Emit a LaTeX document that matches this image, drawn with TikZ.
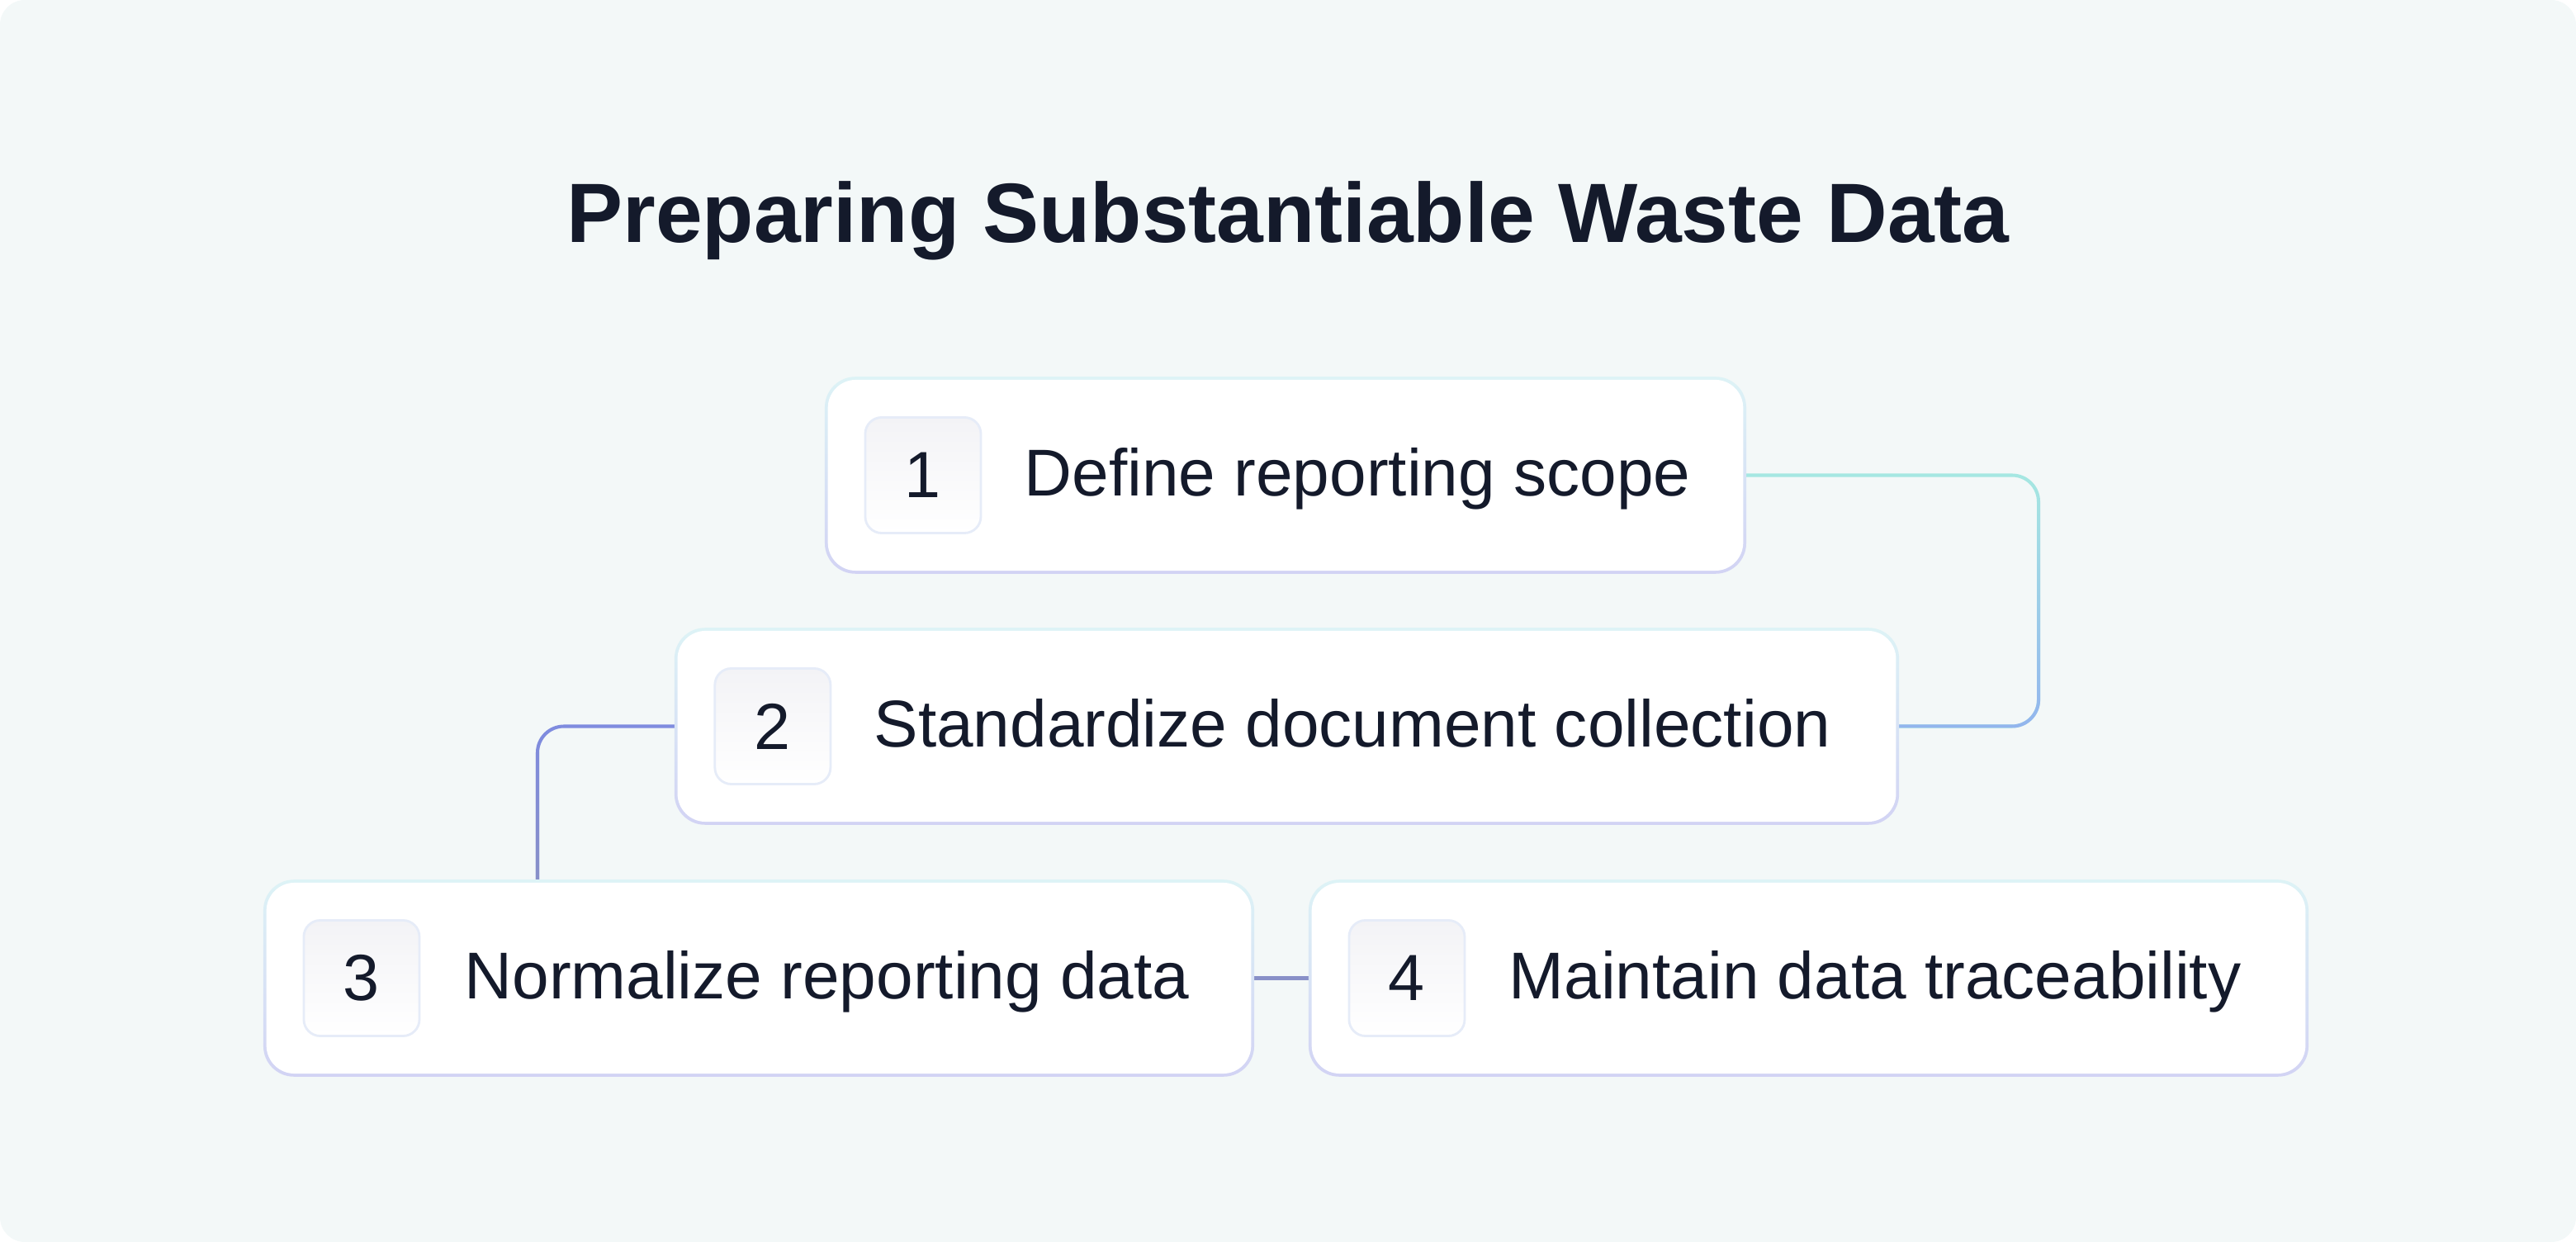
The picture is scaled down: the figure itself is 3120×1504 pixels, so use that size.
\documentclass[tikz,border=0pt]{standalone}
\usepackage{fontspec}
\setmainfont{Liberation Sans}
\usetikzlibrary{fadings,calc}
\definecolor{bgc}{HTML}{F3F8F8}
\definecolor{ink}{HTML}{141A2B}
\definecolor{bdtop}{HTML}{DDF3F6}
\definecolor{bdbot}{HTML}{D2D3F4}
\definecolor{cteal}{HTML}{A6E8E2}
\definecolor{cblue}{HTML}{93B5EE}
\definecolor{cind}{HTML}{7F8CE0}
\definecolor{cgray}{HTML}{8890C8}
\definecolor{nbord}{HTML}{E6ECF8}
\definecolor{nshade}{HTML}{F3F3F6}
\pgfdeclarelayer{bg}\pgfdeclarelayer{conn}\pgfdeclarelayer{border}
\pgfsetlayers{bg,conn,border,main}
\tikzset{
  stepbox/.style={fill=white, rounded corners=0.34cm, minimum height=2.31cm, inner sep=0pt, draw=none},
  numbox/.style={shade, top color=nshade, bottom color=white, draw=nbord, line width=0.8pt,
     rounded corners=0.2cm, minimum size=1.40cm, inner sep=0pt, text=ink, font=\fontsize{22.5}{26}\selectfont},
  lbl/.style={font=\fontsize{22.8}{26}\selectfont, text=ink, inner sep=0pt, text height=16.2pt, text depth=0pt, anchor=west},
  conline/.style={line width=1.15pt, rounded corners=0.32cm},
}
\newcommand{\ringbox}[1]{%
  \begin{pgfonlayer}{border}
  \shade[top color=bdtop, bottom color=bdbot, rounded corners=0.37cm]
    ($(#1.north west)+(-3,-3)$) rectangle ($(#1.south east)+(3,3)$);
  \end{pgfonlayer}}
\begin{document}
\begin{tikzpicture}[x=0.01cm,y=-0.01cm]
\useasboundingbox (0,0) rectangle (3120,1504);
\begin{pgfonlayer}{bg}
\fill[bgc, rounded corners=0.3cm] (0,0) rectangle (3120,1504);
\end{pgfonlayer}

\node[text=ink, inner sep=0pt, text height=20.8pt, text depth=0pt,
      font=\bfseries\fontsize{29}{34}\selectfont] (title) at (1560,257) {Preparing Substantiable Waste Data};

% boxes
\node[stepbox, minimum width=11.08cm] (b1) at (1557,575.5) {};
\node[stepbox, minimum width=14.75cm] (b2) at (1558.5,879.5) {};
\node[stepbox, minimum width=11.92cm] (b3) at (919,1184.5) {};
\node[stepbox, minimum width=12.03cm] (b4) at (2190.5,1184.5) {};
\ringbox{b1}\ringbox{b2}\ringbox{b3}\ringbox{b4}

% number boxes
\node[numbox] (n1) at ($(b1.west)+(116,0)$) {1};
\node[numbox] (n2) at ($(b2.west)+(116,0)$) {2};
\node[numbox] (n3) at ($(b3.west)+(116,0)$) {3};
\node[numbox] (n4) at ($(b4.west)+(116,0)$) {4};

% labels
\node[lbl] (t1) at ($(b1.west)+(238,-3)$) {Define reporting scope};
\node[lbl] (t2) at ($(b2.west)+(238,-3)$) {Standardize document collection};
\node[lbl] (t3) at ($(b3.west)+(240,-3)$) {Normalize reporting data};
\node[lbl] (t4) at ($(b4.west)+(239,-3)$) {Maintain data traceability};

% connectors
\coordinate (r1) at (2469,0);
\coordinate (l2) at (651,0);
\begin{pgfonlayer}{conn}
\draw[conline, cteal] (b1.east) -- (b1.east -| r1) -- (b2.east -| r1) -- (b2.east);
\draw[conline, cblue, path fading=north] (b1.east) -- (b1.east -| r1) -- (b2.east -| r1) -- (b2.east);
\draw[conline, cind] (b2.west) -- (b2.west -| l2) -- (b3.north -| l2);
\draw[conline, cgray, path fading=north] (b2.west) -- (b2.west -| l2) -- (b3.north -| l2);
\draw[conline, cgray] (b3.east) -- (b4.west);
\end{pgfonlayer}
\end{tikzpicture}
\end{document}
